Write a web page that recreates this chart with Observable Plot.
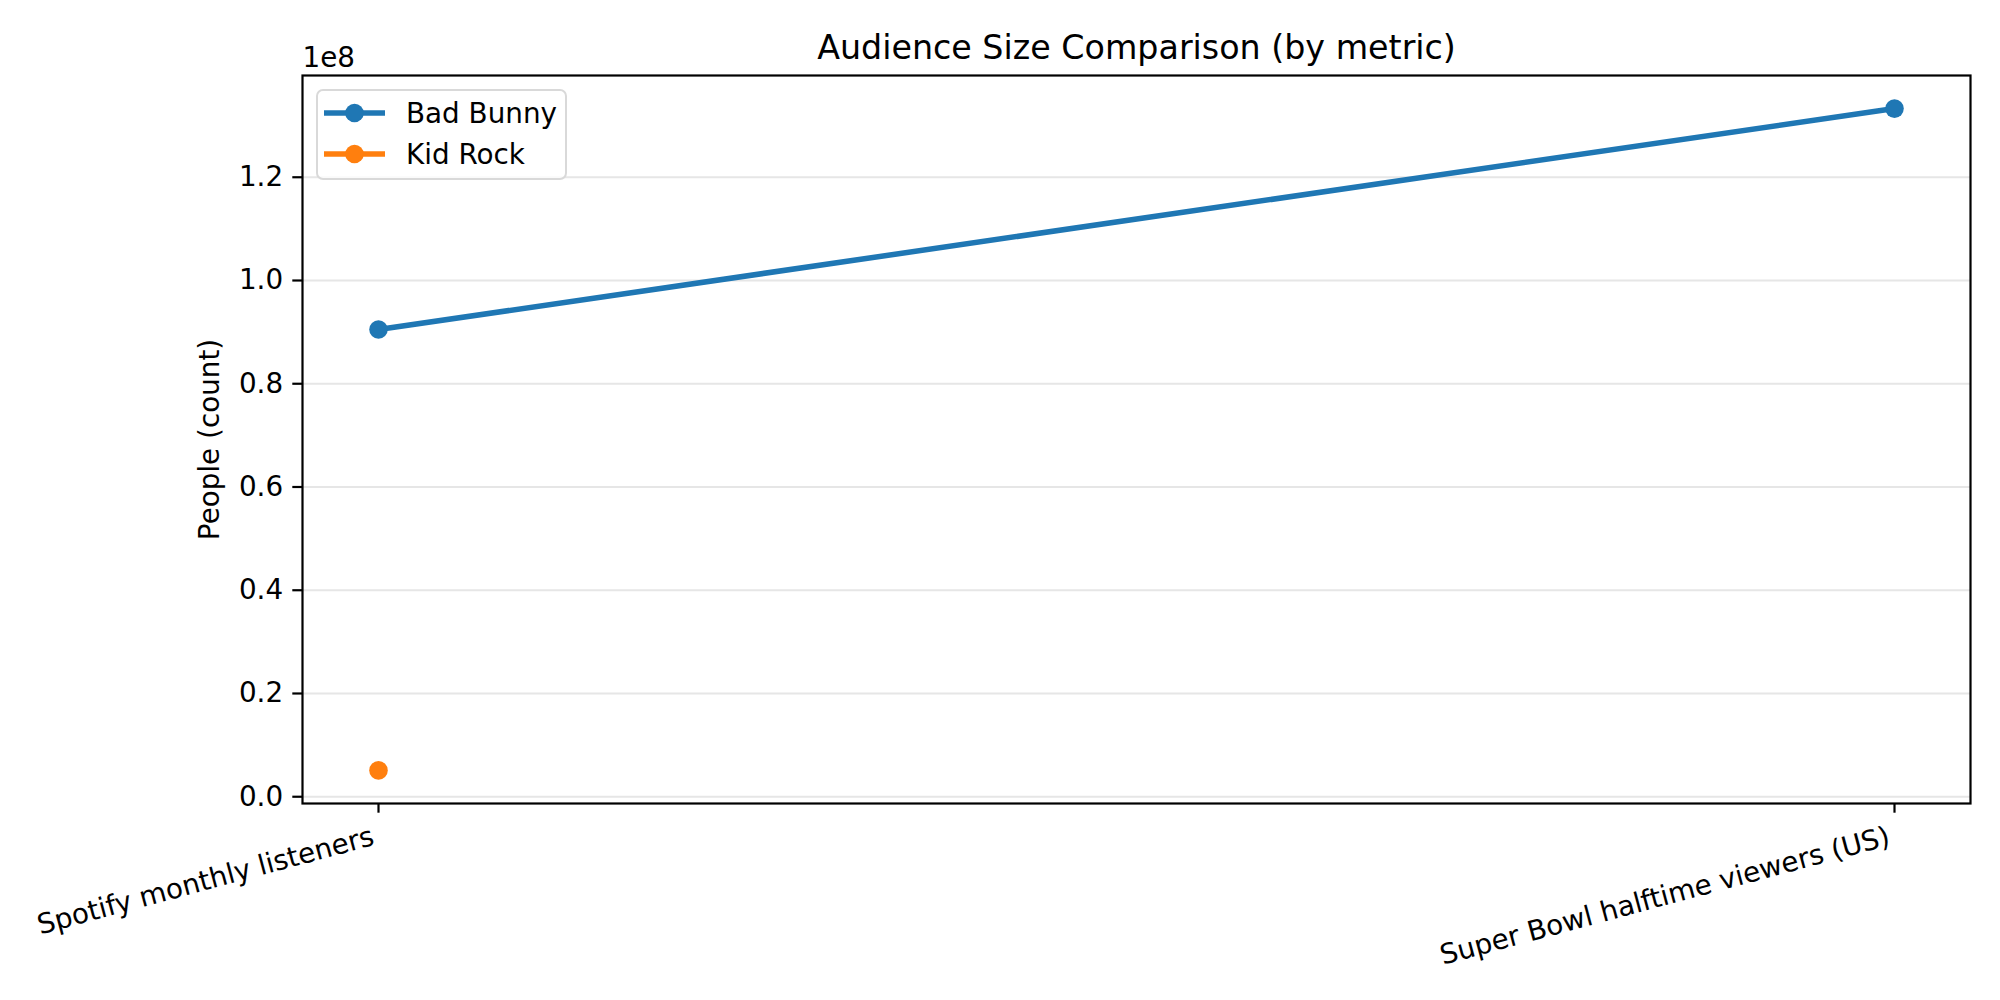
<!DOCTYPE html>
<html>
<head>
<meta charset="utf-8">
<script src="https://cdn.jsdelivr.net/npm/d3@7"></script>
<script src="https://cdn.jsdelivr.net/npm/@observablehq/plot@0.6"></script>
<style>
  html, body { margin: 0; padding: 0; background: #fff; }
  #wrap { position: relative; width: 2000px; height: 1000px; font-family: "DejaVu Sans", sans-serif; }
  #legend { position: absolute; left: 316px; top: 89px; width: 247px; height: 87px;
    border: 2.5px solid #d9d9d9; border-radius: 7px; background: rgba(255,255,255,0.8); box-sizing: content-box; }
  .entry { position: absolute; left: 0; height: 40px; display: flex; align-items: center; font-size: 27.8px; color: #000; white-space: nowrap; }
  .entry svg { margin-left: 6px; margin-right: 21px; }
</style>
</head>
<body>
<div id="wrap"></div>
<script>
// ---- data ----
const metrics = ["Spotify monthly listeners", "Super Bowl halftime viewers (US)"];
const badBunny = [90.5e6, 133.3e6];
const kidRock = [5.1e6, null];
const seriesNames = ["Bad Bunny", "Kid Rock"];
const seriesColors = ["#1f77b4", "#ff7f0e"];
const yTicks = [0, 0.2e8, 0.4e8, 0.6e8, 0.8e8, 1.0e8, 1.2e8];
const titleText = "Audience Size Comparison (by metric)";
const yLabelText = "People (count)";

const rows = [];
[badBunny, kidRock].forEach((vals, si) => {
  vals.forEach((v, i) => { if (v != null) rows.push({series: seriesNames[si], metric: metrics[i], value: v}); });
});

// matplotlib-like 5% margins
const vals = rows.map(d => d.value);
const vmin = d3.min(vals), vmax = d3.max(vals), span = vmax - vmin;
const yDomain = [vmin - 0.05 * span, vmax + 0.05 * span];

const FS = 27.8;
const chart = Plot.plot({
  width: 2000,
  height: 1000,
  marginLeft: 302,
  marginRight: 30,
  marginTop: 75,
  marginBottom: 197,
  style: {fontFamily: "DejaVu Sans, sans-serif", fontSize: FS + "px", color: "#000", background: "#fff"},
  x: {type: "point", domain: metrics, padding: 0.05, label: null},
  y: {domain: yDomain, label: null},
  color: {domain: seriesNames, range: seriesColors},
  marks: [
    Plot.gridY(yTicks, {stroke: "#e6e6e6", strokeOpacity: 1, strokeWidth: 2}),
    Plot.line(rows, {x: "metric", y: "value", z: "series", stroke: "series", strokeWidth: 5.5}),
    Plot.dot(rows, {x: "metric", y: "value", fill: "series", r: 9.3, stroke: "none"}),
    Plot.frame({stroke: "#000", strokeWidth: 2.2}),
    Plot.axisY({ticks: yTicks, tickSize: 9.7, tickPadding: 9.7, strokeWidth: 2.2,
      tickFormat: d => (d / 1e8).toFixed(1), fontSize: FS, label: null}),
    Plot.axisX({tickSize: 9.7, strokeWidth: 2.2, tickFormat: () => "", label: null}),
    Plot.text(metrics, {x: d => d, frameAnchor: "bottom", dy: 22, dx: -8, rotate: -15,
      textAnchor: "end", lineAnchor: "top", fontSize: FS, fill: "#000"}),
    Plot.text([titleText], {frameAnchor: "top", dy: -17, lineAnchor: "bottom", fontSize: 33.3, fill: "#000"}),
    Plot.text(["1e8"], {frameAnchor: "top-left", dy: -9, lineAnchor: "bottom", textAnchor: "start", fontSize: FS, fill: "#000"}),
    Plot.text([yLabelText], {frameAnchor: "left", dx: -92, rotate: -90, textAnchor: "middle", lineAnchor: "middle", fontSize: FS, fill: "#000"})
  ]
});
const wrap = document.getElementById("wrap");
wrap.appendChild(chart);

// legend
const legend = document.createElement("div");
legend.id = "legend";
seriesNames.forEach((name, i) => {
  const e = document.createElement("div");
  e.className = "entry";
  e.style.top = (2 + i * 41) + "px";
  e.innerHTML = `<svg width="61" height="30"><line x1="0" x2="61" y1="15" y2="15" stroke="${seriesColors[i]}" stroke-width="5.5"/><circle cx="30.5" cy="15" r="9.3" fill="${seriesColors[i]}"/></svg><span>${name}</span>`;
  legend.appendChild(e);
});
wrap.appendChild(legend);
</script>
</body>
</html>
